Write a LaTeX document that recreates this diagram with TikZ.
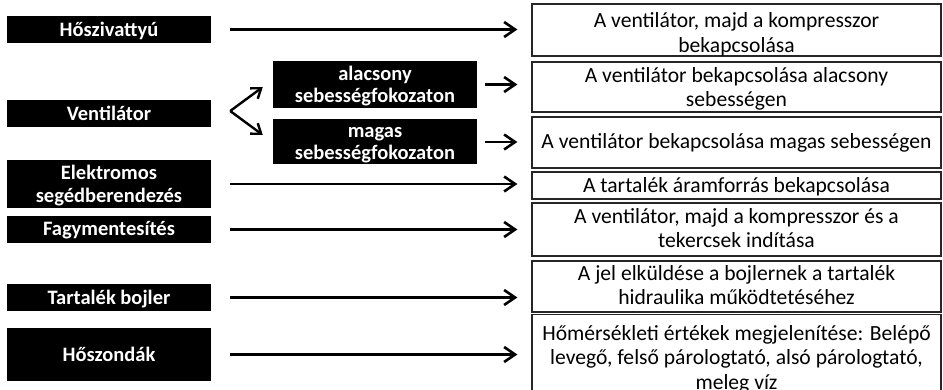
\documentclass[tikz,border=0pt]{standalone}
\usepackage{fontspec}
\setmainfont{Carlito}
\usetikzlibrary{arrows.meta,calc}
% centred rows, lowered by #1 without changing the reported size
\newcommand\boxtext[2]{\raisebox{-#1}[\height][\depth]{\begin{tabular}{@{}c@{}}#2\end{tabular}}}
\begin{document}
\begin{tikzpicture}[x=1pt,y=-1pt,
  src/.style={fill=black,text=white,font=\fontsize{20.5}{22.5}\selectfont\bfseries,
    inner sep=0pt,minimum width=204pt},
  res/.style={draw=black!85,line width=1.2pt,inner sep=0pt,
    minimum width=409pt,font=\fontsize{21.6}{24.5}\selectfont},
  arr/.style={line width=2.6pt,-{Straight Barb[length=11pt,width=15pt]}},
  forkarr/.style={line width=2.4pt,-{Straight Barb[length=9pt,width=13pt]}}]
\useasboundingbox (0,0) rectangle (943,390);
% sources (left column)
\node[src,minimum height=27pt] (hp)   at (109,29.5)  {\boxtext{2.5pt}{Hőszivattyú}};
\node[src,minimum height=27pt] (vent) at (109,113.5) {\boxtext{2.5pt}{Ventilátor}};
\node[src,minimum height=48pt] (elek) at (109,184)   {\boxtext{2.5pt}{Elektromos\\segédberendezés}};
\node[src,minimum height=27pt] (fagy) at (109,229.5) {\boxtext{1.5pt}{Fagymentesítés}};
\node[src,minimum height=27pt] (tart) at (109,297.5) {\boxtext{2.5pt}{Tartalék bojler}};
\node[src,minimum height=53pt] (hoz)  at (109,354.5) {\boxtext{2.5pt}{Hőszondák}};
% fan speed stages
\node[src,minimum height=47pt] (low)  at (375,84.5)  {\boxtext{2.5pt}{alacsony\\sebességfokozaton}};
\node[src,minimum height=45pt] (high) at (375,142)   {\boxtext{2pt}{magas\\sebességfokozaton}};
% results (right column)
\node[res,minimum height=52pt] (r1) at (736.5,30)    {\boxtext{5pt}{A ventilátor, majd a kompresszor\\bekapcsolása}};
\node[res,minimum height=50pt] (r2) at (736.5,87)    {\boxtext{2.5pt}{A ventilátor bekapcsolása alacsony\\sebességen}};
\node[res,minimum height=51pt] (r3) at (736.5,142.5) {\boxtext{1pt}{A ventilátor bekapcsolása magas sebességen}};
\node[res,minimum height=27pt] (r4) at (736.5,185.5) {\boxtext{2.5pt}{A tartalék áramforrás bekapcsolása}};
\node[res,minimum height=53pt] (r5) at (736.5,229.5) {\boxtext{1pt}{A ventilátor, majd a kompresszor és a\\tekercsek indítása}};
\node[res,minimum height=51pt] (r6) at (736.5,286.5) {\boxtext{1pt}{A jel elküldése a bojlernek a tartalék\\hidraulika működtetéséhez}};
\node[res,minimum height=90pt,anchor=north] (r7) at (736.5,314) {\boxtext{0pt}{Hőmérsékleti értékek megjelenítése: Belépő\\levegő, felső párologtató, alsó párologtató,\\meleg víz}};
% straight connectors
\foreach \s/\t in {hp/r1,elek/r4,fagy/r5,tart/r6,hoz/r7}
  \draw[arr,shorten <=19pt,shorten >=14pt] (\s.east) -- (\s.east -| \t.west);
\foreach \s/\t in {low/r2,high/r3}
  \draw[arr,shorten <=8pt,shorten >=14pt] (\s.east) -- (\s.east -| \t.west);
% fork from the fan to its two speed stages
\coordinate (fork)   at ($(vent.east)+(19,-2.5)$);
\coordinate (lowin)  at ($(low.west)+(-10,2.5)$);
\coordinate (highin) at ($(high.west)+(-10,-7)$);
\draw[forkarr] (fork) -- (lowin);
\draw[forkarr] (fork) -- (highin);
\end{tikzpicture}
\end{document}
